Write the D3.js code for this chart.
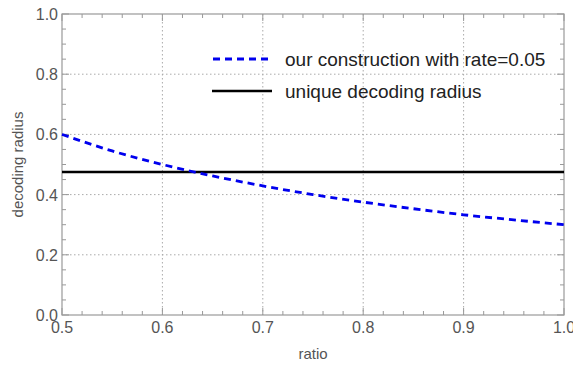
<!DOCTYPE html>
<html>
<head>
<meta charset="utf-8">
<script src="https://cdn.jsdelivr.net/npm/d3@7"></script>
<style>
  body { margin: 0; background: #fff; }
  text { font-family: "Liberation Sans", Arial, sans-serif; }
</style>
</head>
<body>
<svg id="chart"></svg>
<script>
// ratio values along the x axis
const ratios = [0.5, 0.55, 0.6, 0.65, 0.7, 0.75, 0.8, 0.85, 0.9, 0.95, 1.0];
// decoding radius of our construction (rate = 0.05)
const constructionRadius = [0.6, 0.545, 0.5, 0.462, 0.429, 0.4, 0.375, 0.353, 0.333, 0.316, 0.3];
// unique decoding radius (flat)
const uniqueRadius = 0.475;
const xTicks = [0.5, 0.6, 0.7, 0.8, 0.9, 1.0];
const yTicks = [0.0, 0.2, 0.4, 0.6, 0.8, 1.0];
const legendLabels = ['our construction with rate=0.05', 'unique decoding radius'];

const W = 573, H = 365;
const margin = {top: 14, right: 9, bottom: 50, left: 62};
const width = W - margin.left - margin.right;
const height = H - margin.top - margin.bottom;

const svg = d3.select('#chart').attr('width', W).attr('height', H);
const chart = svg.append('g').attr('transform', `translate(${margin.left},${margin.top})`);

const x = d3.scaleLinear().domain([0.5, 1.0]).range([0, width]);
const y = d3.scaleLinear().domain([0, 1]).range([height, 0]);

const axisColor = '#999';
const labelColor = '#555';

// dotted grid at major ticks
chart.append('g').selectAll('line.gx')
    .data(xTicks.slice(1, -1))
  .join('line')
    .attr('x1', d => x(d)).attr('x2', d => x(d))
    .attr('y1', 0).attr('y2', height)
    .attr('stroke', '#aaa').attr('stroke-width', 1).attr('stroke-dasharray', '1.5,2.5');
chart.append('g').selectAll('line.gy')
    .data(yTicks.slice(1, -1))
  .join('line')
    .attr('y1', d => y(d)).attr('y2', d => y(d))
    .attr('x1', 0).attr('x2', width)
    .attr('stroke', '#aaa').attr('stroke-width', 1).attr('stroke-dasharray', '1.5,2.5');

// frame
chart.append('rect')
    .attr('width', width).attr('height', height)
    .attr('fill', 'none').attr('stroke', axisColor).attr('stroke-width', 1.2);

// inward ticks on all four sides
const xMinor = d3.range(0.5, 1.0001, 0.02);
const yMinor = d3.range(0, 1.0001, 0.05);
const isMajor = (v, step) => Math.abs(v / step - Math.round(v / step)) < 1e-6;

const tickG = chart.append('g').attr('stroke', axisColor).attr('stroke-width', 1);
xMinor.forEach(v => {
  const len = isMajor(v, 0.1) ? 7 : 4;
  tickG.append('line').attr('x1', x(v)).attr('x2', x(v)).attr('y1', height).attr('y2', height - len);
  tickG.append('line').attr('x1', x(v)).attr('x2', x(v)).attr('y1', 0).attr('y2', len);
});
yMinor.forEach(v => {
  const len = isMajor(v, 0.2) ? 7 : 4;
  tickG.append('line').attr('y1', y(v)).attr('y2', y(v)).attr('x1', 0).attr('x2', len);
  tickG.append('line').attr('y1', y(v)).attr('y2', y(v)).attr('x1', width).attr('x2', width - len);
});

// tick labels
chart.append('g').selectAll('text')
    .data(xTicks)
  .join('text')
    .attr('x', d => x(d)).attr('y', height + 18)
    .attr('text-anchor', 'middle')
    .attr('fill', labelColor).style('font-size', '16px')
    .text(d => d.toFixed(1));
chart.append('g').selectAll('text')
    .data(yTicks)
  .join('text')
    .attr('x', -4).attr('y', d => y(d) + 6)
    .attr('text-anchor', 'end')
    .attr('fill', labelColor).style('font-size', '16px')
    .text(d => d.toFixed(1));

// axis titles
svg.append('text')
    .attr('x', margin.left + width / 2).attr('y', 359)
    .attr('text-anchor', 'middle')
    .attr('fill', labelColor).style('font-size', '15px')
    .text('ratio');
svg.append('text')
    .attr('transform', `translate(23,${margin.top + height / 2}) rotate(-90)`)
    .attr('text-anchor', 'middle')
    .attr('fill', labelColor).style('font-size', '15px')
    .text('decoding radius');

// unique decoding radius
chart.append('line')
    .attr('x1', x(0.5)).attr('x2', x(1.0))
    .attr('y1', y(uniqueRadius)).attr('y2', y(uniqueRadius))
    .attr('stroke', '#000').attr('stroke-width', 2.5);

// our construction
const line = d3.line()
    .x((d, i) => x(ratios[i]))
    .y(d => y(d))
    .curve(d3.curveMonotoneX);
chart.append('path')
    .datum(constructionRadius)
    .attr('d', line)
    .attr('fill', 'none')
    .attr('stroke', '#0000ee').attr('stroke-width', 2.8)
    .attr('stroke-dasharray', '7,5');

// legend
const legend = svg.append('g');
legend.append('line')
    .attr('x1', 213).attr('x2', 271).attr('y1', 59).attr('y2', 59)
    .attr('stroke', '#0000ee').attr('stroke-width', 2.8).attr('stroke-dasharray', '7,5');
legend.append('line')
    .attr('x1', 212).attr('x2', 272).attr('y1', 91).attr('y2', 91)
    .attr('stroke', '#000').attr('stroke-width', 2.5);
legend.selectAll('text')
    .data(legendLabels)
  .join('text')
    .attr('x', 285).attr('y', (d, i) => 66 + i * 32)
    .attr('fill', '#222').style('font-size', '19px')
    .text(d => d);
</script>
</body>
</html>
